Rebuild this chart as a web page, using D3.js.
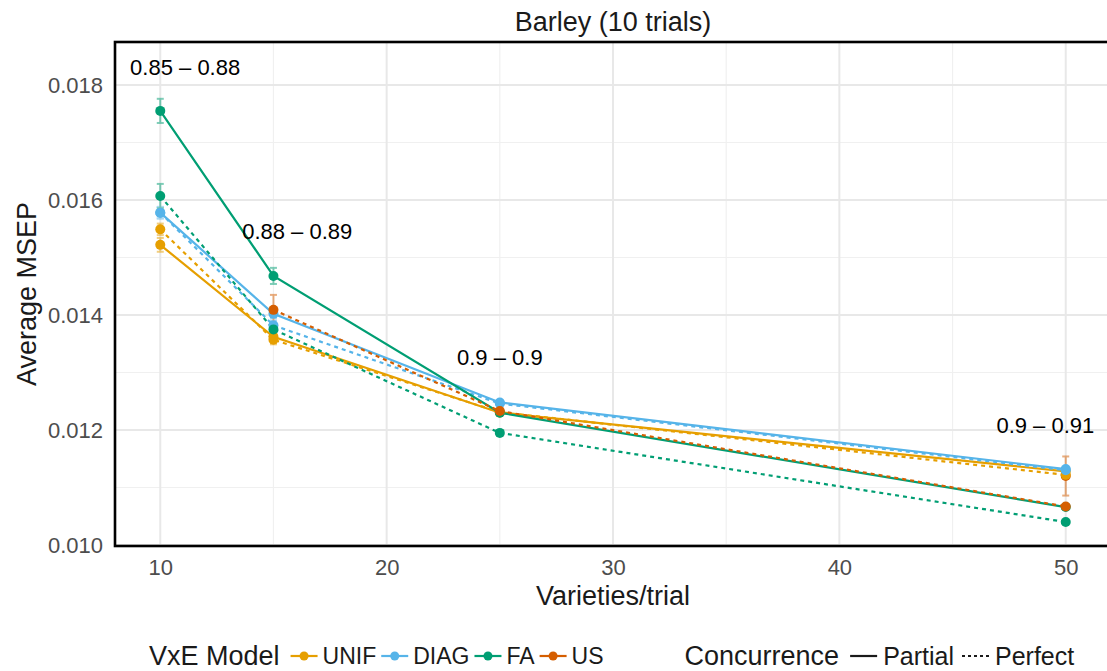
<!DOCTYPE html>
<html>
<head>
<meta charset="utf-8">
<script src="https://cdn.jsdelivr.net/npm/d3@7"></script>
<style>
  body { margin: 0; background: #fff; }
  svg { display: block; font-family: "Liberation Sans", Arial, Helvetica, sans-serif; }
</style>
</head>
<body>
<svg id="chart" width="1107" height="671"></svg>
<script>
// Varieties per trial on the x axis
const varieties = [10, 15, 25, 50];

// VxE models and concurrence levels
const models = ["UNIF", "DIAG", "FA", "US"];
const modelColors = ["#E69F00", "#56B4E9", "#009E73", "#D55E00"];
const concurrence = ["Partial", "Perfect"];

// Average MSEP per model (null = no estimate at that size)
const unifPartial = [0.01522, 0.01362, 0.01230, 0.01128];
const unifPerfect = [0.01549, 0.01357, 0.01231, 0.01122];
const diagPartial = [0.01578, 0.01402, 0.01248, 0.01132];
const diagPerfect = [0.01578, 0.01382, 0.01246, 0.01130];
const faPartial   = [0.01755, 0.01468, 0.01230, 0.01066];
const faPerfect   = [0.01607, 0.01375, 0.01195, 0.01040];
const usPartial   = [null, null, null, 0.01120];
const usPerfect   = [null, 0.01409, 0.01233, 0.01067];

// Half-widths of the error bars
const unifPartialErr = [0.00012, 0.00008, 0.00004, 0.00003];
const unifPerfectErr = [0.00010, 0.00008, 0.00004, 0.00003];
const diagPartialErr = [0.00010, 0.00008, 0.00004, 0.00003];
const diagPerfectErr = [0.00010, 0.00008, 0.00004, 0.00003];
const faPartialErr   = [0.00021, 0.00014, 0.00004, 0.00003];
const faPerfectErr   = [0.00021, 0.00010, 0.00005, 0.00003];
const usPartialErr   = [null, null, null, 0.00034];
const usPerfectErr   = [null, 0.00026, 0.00005, 0.00004];

// Accuracy range labels per panel size
const rangeLabels = ["0.85 – 0.88", "0.88 – 0.89", "0.9 – 0.9", "0.9 – 0.91"];
const rangeLabelX = [11.1, 16.05, 25, 49.1];
const rangeLabelY = [0.01831, 0.01546, 0.01327, 0.01209];

const xTicks = [10, 20, 30, 40, 50];
const xMinor = [15, 25, 35, 45];
const yTicks = [0.010, 0.012, 0.014, 0.016, 0.018];
const yMinor = [0.011, 0.013, 0.015, 0.017];

const series = [
  { model: "US",   conc: "Partial", values: usPartial,   err: usPartialErr },
  { model: "UNIF", conc: "Partial", values: unifPartial, err: unifPartialErr },
  { model: "UNIF", conc: "Perfect", values: unifPerfect, err: unifPerfectErr },
  { model: "DIAG", conc: "Partial", values: diagPartial, err: diagPartialErr },
  { model: "DIAG", conc: "Perfect", values: diagPerfect, err: diagPerfectErr },
  { model: "FA",   conc: "Partial", values: faPartial,   err: faPartialErr },
  { model: "FA",   conc: "Perfect", values: faPerfect,   err: faPerfectErr },
  { model: "US",   conc: "Perfect", values: usPerfect,   err: usPerfectErr }
];

const color = d3.scaleOrdinal().domain(models).range(modelColors);
const dash = d3.scaleOrdinal().domain(concurrence).range(["none", "4,4"]);

const svg = d3.select("#chart");
const panel = { left: 115, right: 1111, top: 42, bottom: 546 };

const x = d3.scaleLinear().domain([8, 52]).range([panel.left, panel.right]);
const y = d3.scaleLinear().domain([0.009983, 0.018748]).range([panel.bottom, panel.top]);

const textDark = "#1a1a1a";
const textGrey = "#4d4d4d";
const titleSize = 27;
const labelSize = 22;

// Grid
const grid = svg.append("g");
grid.selectAll(".ymin").data(yMinor).join("line")
  .attr("x1", panel.left).attr("x2", panel.right)
  .attr("y1", d => y(d)).attr("y2", d => y(d))
  .attr("stroke", "#f0f0f0").attr("stroke-width", 1.2);
grid.selectAll(".xmin").data(xMinor).join("line")
  .attr("y1", panel.top).attr("y2", panel.bottom)
  .attr("x1", d => x(d)).attr("x2", d => x(d))
  .attr("stroke", "#f0f0f0").attr("stroke-width", 1.2);
grid.selectAll(".ymaj").data(yTicks).join("line")
  .attr("x1", panel.left).attr("x2", panel.right)
  .attr("y1", d => y(d)).attr("y2", d => y(d))
  .attr("stroke", "#e8e8e8").attr("stroke-width", 2);
grid.selectAll(".xmaj").data(xTicks).join("line")
  .attr("y1", panel.top).attr("y2", panel.bottom)
  .attr("x1", d => x(d)).attr("x2", d => x(d))
  .attr("stroke", "#e8e8e8").attr("stroke-width", 2);

// Axes (labels only)
const xAxis = svg.append("g")
  .attr("transform", `translate(0,${panel.bottom})`)
  .call(d3.axisBottom(x).tickValues(xTicks).tickSize(0).tickPadding(13).tickFormat(d3.format("d")));
xAxis.select(".domain").remove();
xAxis.selectAll("text").attr("font-size", labelSize).attr("fill", textGrey)
  .attr("font-family", "Liberation Sans, Arial, sans-serif");

const yAxis = svg.append("g")
  .attr("transform", `translate(${panel.left},0)`)
  .call(d3.axisLeft(y).tickValues(yTicks).tickSize(0).tickPadding(12).tickFormat(d3.format(".3f")));
yAxis.select(".domain").remove();
yAxis.selectAll("text").attr("font-size", labelSize).attr("fill", textGrey)
  .attr("font-family", "Liberation Sans, Arial, sans-serif");

// Points per series
const pts = s => varieties.map((v, i) => ({ x: v, y: s.values[i], e: s.err[i], s }))
  .filter(p => p.y != null);

// Error bars
const eb = svg.append("g").attr("opacity", 0.5);
series.forEach(s => {
  pts(s).forEach(p => {
    const c = color(s.model);
    eb.append("line").attr("x1", x(p.x)).attr("x2", x(p.x))
      .attr("y1", y(p.y - p.e)).attr("y2", y(p.y + p.e))
      .attr("stroke", c).attr("stroke-width", 2);
    [p.y - p.e, p.y + p.e].forEach(v => {
      eb.append("line").attr("x1", x(p.x) - 3.5).attr("x2", x(p.x) + 3.5)
        .attr("y1", y(v)).attr("y2", y(v))
        .attr("stroke", c).attr("stroke-width", 2);
    });
  });
});

// Lines
const line = d3.line().x(d => x(d.x)).y(d => y(d.y));
const lines = svg.append("g");
series.forEach(s => {
  const p = pts(s);
  if (p.length < 2) return;
  lines.append("path").datum(p)
    .attr("d", line).attr("fill", "none")
    .attr("stroke", color(s.model)).attr("stroke-width", 2.2)
    .attr("stroke-dasharray", dash(s.conc));
});

// Points
const points = svg.append("g");
series.forEach(s => {
  points.selectAll(null).data(pts(s)).join("circle")
    .attr("cx", d => x(d.x)).attr("cy", d => y(d.y)).attr("r", 5)
    .attr("fill", color(s.model));
});

// Accuracy range annotations
svg.append("g").selectAll("text").data(rangeLabels).join("text")
  .attr("x", (d, i) => x(rangeLabelX[i]))
  .attr("y", (d, i) => y(rangeLabelY[i]))
  .attr("dy", "0.35em").attr("text-anchor", "middle")
  .attr("font-size", labelSize).attr("fill", "#000")
  .text(d => d);

// Panel border
svg.append("rect")
  .attr("x", panel.left).attr("y", panel.top)
  .attr("width", panel.right - panel.left).attr("height", panel.bottom - panel.top)
  .attr("fill", "none").attr("stroke", "#000").attr("stroke-width", 2.6);

// Titles
svg.append("text").attr("x", (panel.left + panel.right) / 2).attr("y", 22).attr("dy", "0.35em")
  .attr("text-anchor", "middle").attr("font-size", titleSize).attr("fill", textDark)
  .text("Barley (10 trials)");
svg.append("text").attr("x", (panel.left + panel.right) / 2).attr("y", 596).attr("dy", "0.35em")
  .attr("text-anchor", "middle").attr("font-size", titleSize).attr("fill", textDark)
  .text("Varieties/trial");
svg.append("text")
  .attr("transform", `translate(27,${(panel.top + panel.bottom) / 2}) rotate(-90)`)
  .attr("dy", "0.35em")
  .attr("text-anchor", "middle").attr("font-size", titleSize).attr("fill", textDark)
  .text("Average MSEP");

// Legend
const legend = svg.append("g");
const ly = 656;
let cx = 149;
function addText(t, size) {
  const el = legend.append("text").attr("x", cx).attr("y", ly).attr("dy", "0.35em")
    .attr("font-size", size).attr("fill", textDark).text(t);
  cx += el.node().getComputedTextLength();
}
addText("VxE Model", titleSize);
cx += 11;
models.forEach(m => {
  legend.append("line").attr("x1", cx).attr("x2", cx + 27).attr("y1", ly).attr("y2", ly)
    .attr("stroke", color(m)).attr("stroke-width", 2.2);
  legend.append("circle").attr("cx", cx + 13.5).attr("cy", ly).attr("r", 4.5).attr("fill", color(m));
  cx += 32;
  addText(m, 23);
  cx += 5;
});
cx += 76;
addText("Concurrence", titleSize);
cx += 11;
concurrence.forEach(c => {
  legend.append("line").attr("x1", cx).attr("x2", cx + 27).attr("y1", ly).attr("y2", ly)
    .attr("stroke", textDark).attr("stroke-width", 2.2).attr("stroke-dasharray", c === "Perfect" ? "3,3" : "none");
  cx += 33;
  addText(c, 25);
  cx += 8;
});
</script>
</body>
</html>
